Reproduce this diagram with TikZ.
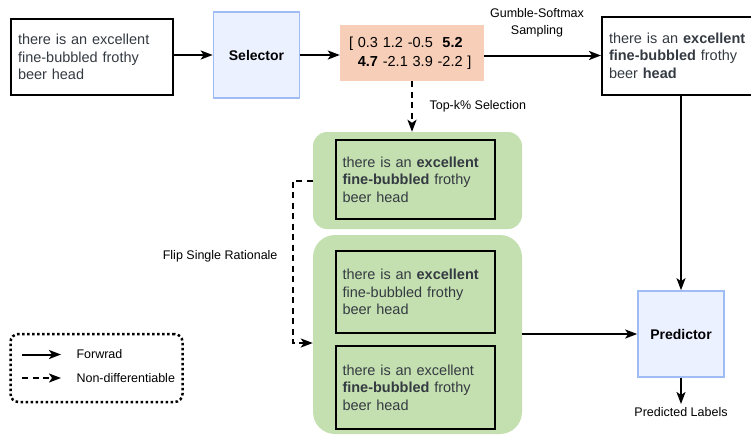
\documentclass[tikz,border=0pt]{standalone}
\usepackage{fontspec}
\setmainfont{Liberation Sans}
\usetikzlibrary{arrows.meta,positioning,calc}
\definecolor{modelblue}{RGB}{236,241,255}
\definecolor{modelborder}{RGB}{160,188,245}
\definecolor{scorepeach}{RGB}{247,206,183}
\definecolor{groupgreen}{RGB}{197,224,176}
\definecolor{sentgray}{RGB}{52,58,66}

\tikzset{
    sentbox/.style={draw, line width=2pt, rectangle, align=left, text=sentgray,
        font=\fontsize{14.5}{17.5}\selectfont, inner sep=0pt},
    modelbox/.style={draw=modelborder, fill=modelblue, line width=1.6pt, rectangle,
        minimum width=86pt, minimum height=86pt, font=\fontsize{14}{16}\selectfont\bfseries},
    groupbox/.style={fill=groupgreen, rectangle, minimum width=209pt},
    annot/.style={font=\fontsize{12.5}{17}\selectfont, align=center},
    fwd/.style={-{Stealth[length=12pt,width=9pt,inset=3pt]}, line width=2pt},
    ndiff/.style={-{Stealth[length=12pt,width=9pt,inset=3pt]}, line width=2pt, dash pattern=on 6pt off 4.5pt}
}

\begin{document}
\begin{tikzpicture}[x=1pt, y=-1pt]
    \useasboundingbox (0,0) rectangle (751,434);

    % Top row
    \node[sentbox, minimum width=162pt, minimum height=76pt, text width=148pt] (input) at (92,57)
        {there is an excellent\\fine-bubbled frothy\\beer head};
    \node[modelbox] (selector) at (256.5,55) {Selector};
    \node[rectangle, fill=scorepeach, minimum width=144pt, minimum height=56pt, align=left,
        text width=126pt, font=\fontsize{14.5}{19}\selectfont] (scores) at (412,53)
        {[ 0.3 1.2 -0.5 \ \textbf{5.2}\\\hphantom{[ }\textbf{4.7} -2.1 3.9 -2.2 ]};
    \node[sentbox, minimum width=158pt, minimum height=78pt, text width=144pt] (output) at (681,55.5)
        {there is an \textbf{excellent}\\\textbf{fine-bubbled} frothy\\beer \textbf{head}};

    % Rationale groups
    \node[groupbox, rounded corners=14pt, minimum height=97pt] (topgrp) at (417.5,180.5) {};
    \node[sentbox, minimum width=159pt, minimum height=79pt, text width=146pt] (topsent) at (415.5,179.5)
        {there is an \textbf{excellent}\\\textbf{fine-bubbled} frothy\\beer head};
    \node[groupbox, rounded corners=22pt, minimum height=199pt] (botgrp) at (417.5,334.5) {};
    \node[sentbox, minimum width=159pt, minimum height=82pt, text width=146pt] (flipA) at (415.5,292)
        {there is an \textbf{excellent}\\fine-bubbled frothy\\beer head};
    \node[sentbox, minimum width=159pt, minimum height=83pt, text width=146pt] (flipB) at (415.5,387.5)
        {there is an excellent\\\textbf{fine-bubbled} frothy\\beer head};

    % Predictor
    \node[modelbox] (predictor) at (681,334) {Predictor};
    \node[annot, anchor=north] (labels) at (681,404) {Predicted Labels};

    % Connections
    \draw[fwd] (input.east |- selector.west) -- (selector.west);
    \draw[fwd] (selector.east) -- (selector.east -| scores.west);
    \draw[fwd] (scores.east |- output.west) -- (output.west);
    \node[annot] (gumbel) at (537,23) {Gumble-Softmax\\Sampling};
    \draw[ndiff] (scores.south) -- (scores.south |- topgrp.north);
    \node[annot, anchor=west] (topk) at (426,106) {Top-k\% Selection};
    \draw[ndiff] (topgrp.west) -- ++(-20,0) |- ($(botgrp.west)+(0,8.5)$);
    \node[annot, anchor=east] (flip) at (281,256) {Flip Single Rationale};
    \draw[fwd] (botgrp.east |- predictor.west) -- (predictor.west);
    \draw[fwd] (output.south -| predictor.north) -- (predictor.north);
    \draw[fwd] (predictor.south) -- (labels.north);

    % Legend
    \node[draw, rectangle, rounded corners=8pt, line width=2.5pt, dash pattern=on 2.5pt off 2.5pt,
        minimum width=172pt, minimum height=68pt] (legend) at (96.5,368) {};
    \coordinate (fwdA) at (22,354.5);
    \coordinate (fwdB) at (61,354.5);
    \coordinate (ndiffA) at (22,378);
    \coordinate (ndiffB) at (61,378);
    \draw[fwd] (fwdA) -- (fwdB);
    \draw[ndiff] (ndiffA) -- (ndiffB);
    \node[annot, anchor=west] (fwdtext) at (73,354.5) {Forwrad};
    \node[annot, anchor=west] (ndifftext) at (73,378) {Non-differentiable};
\end{tikzpicture}
\end{document}
